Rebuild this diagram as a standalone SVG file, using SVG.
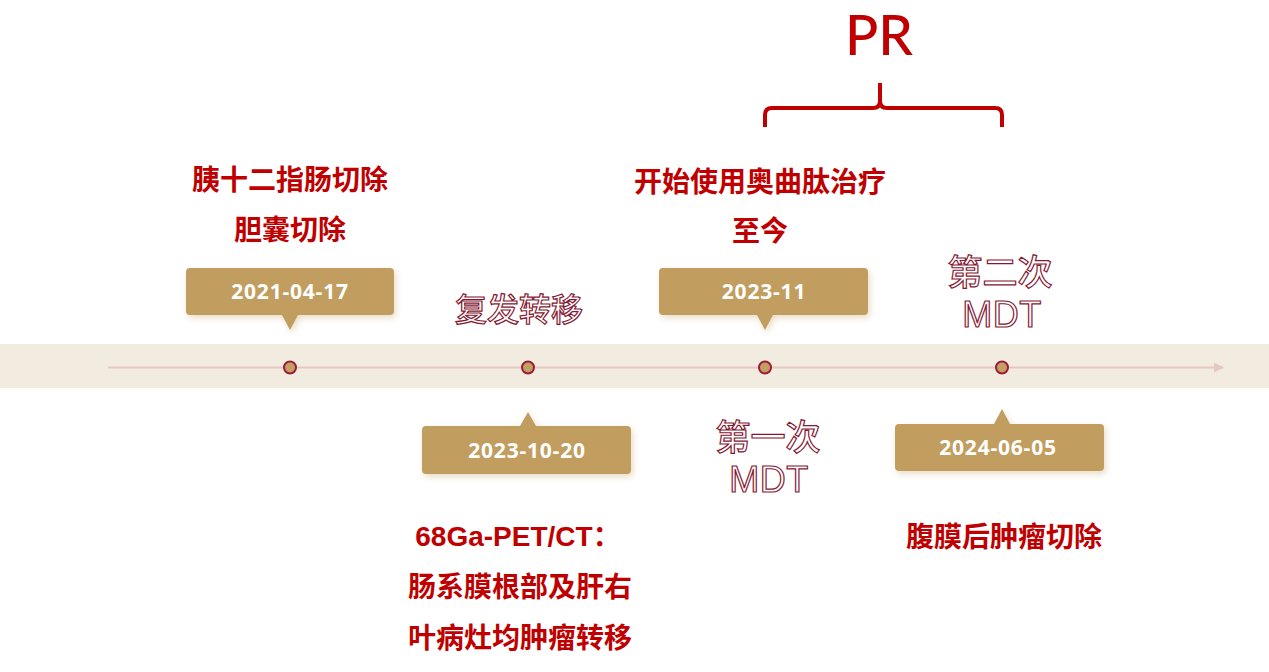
<svg xmlns="http://www.w3.org/2000/svg" width="1269" height="672" viewBox="0 0 1269 672">
<defs>
<style>
.red{font-family:"Liberation Sans","Noto Sans CJK SC",sans-serif;font-weight:bold;font-size:28px;fill:#c00000;text-anchor:middle}
.date{font-family:"Open Sans","Noto Sans",sans-serif;font-weight:bold;font-size:21px;fill:#ffffff;text-anchor:middle;letter-spacing:0.8px}
.outl{font-family:"Noto Sans CJK SC","Open Sans",sans-serif;font-weight:500;font-size:32px;fill:#ffffff;stroke:#841833;stroke-width:1.2;text-anchor:middle}
.big{font-size:35px}
.mdt{font-family:"Liberation Sans",sans-serif;font-weight:normal;font-size:36px;letter-spacing:0.5px}
.callout{fill:#c19e5f;filter:url(#sh)}
.dot{fill:#c3a062;stroke:#9b1b3b;stroke-width:2}
</style>
<filter id="sh" x="-10%" y="-20%" width="130%" height="160%">
<feDropShadow dx="2" dy="3" stdDeviation="3" flood-color="#c19e5f" flood-opacity="0.35"/>
</filter>
<marker id="arr" viewBox="0 0 10 10" refX="9" refY="5" markerWidth="10" markerHeight="10" markerUnits="userSpaceOnUse" orient="auto">
<path d="M0,0 L10,5 L0,10 Z" fill="#e6c8c0"/>
</marker>
</defs>
<rect width="1269" height="672" fill="#ffffff"/>
<g id="timeline">
<rect x="0" y="344" width="1269" height="44" fill="#f2ebdf"/>
</g>
<g id="connectors">
<line x1="108" y1="367.5" x2="1223" y2="367.5" stroke="#e6c8c0" stroke-width="2" marker-end="url(#arr)"/>
<path d="M765,127 V115 Q765,108 772,108 H873 Q880,108 880,101 V83 M880,101 Q880,108 887,108 H995 Q1002,108 1002,115 V127" fill="none" stroke="#c00000" stroke-width="4"/>
</g>
<g id="pr"><text x="879" y="55" style="font-family:Lato,'Open Sans',sans-serif;font-size:55px;font-weight:500;fill:#c00000;text-anchor:middle">PR</text></g>
<g id="dots">
<circle class="dot" cx="290" cy="367.5" r="6"/>
<circle class="dot" cx="528" cy="367.5" r="6"/>
<circle class="dot" cx="765" cy="367.5" r="6"/>
<circle class="dot" cx="1002" cy="367.5" r="6"/>
</g>
<g id="node1">
<path class="callout" d="M190,268 H390 Q394,268 394,272 V311 Q394,315 390,315 H298 L290,330 L282,315 H190 Q186,315 186,311 V272 Q186,268 190,268 Z"/>
<text class="date" x="290" y="299">2021-04-17</text>
<text class="red" x="290" y="190">胰十二指肠切除</text>
<text class="red" x="290" y="240">胆囊切除</text>
</g>
<g id="node2">
<path class="callout" d="M426,426 H520 L528,412 L536,426 H627 Q631,426 631,430 V470 Q631,474 627,474 H426 Q422,474 422,470 V430 Q422,426 426,426 Z"/>
<text class="date" x="527" y="458">2023-10-20</text>
<text class="outl" x="519" y="321">复发转移</text>
<text class="red" x="518" y="546">68Ga-PET/CT：</text>
<text class="red" x="520" y="597">肠系膜根部及肝右</text>
<text class="red" x="520" y="648">叶病灶均肿瘤转移</text>
</g>
<g id="node3">
<path class="callout" d="M663,268 H864 Q868,268 868,272 V311 Q868,315 864,315 H773 L765,330 L757,315 H663 Q659,315 659,311 V272 Q659,268 663,268 Z"/>
<text class="date" x="764" y="299">2023-11</text>
<text class="red" x="760" y="192">开始使用奥曲肽治疗</text>
<text class="red" x="760" y="241">至今</text>
<text class="outl big" x="768" y="450">第一次</text>
<text class="outl mdt" x="769" y="492">MDT</text>
</g>
<g id="node4">
<path class="callout" d="M899,424 H994 L1002,409 L1010,424 H1100 Q1104,424 1104,428 V467 Q1104,471 1100,471 H899 Q895,471 895,467 V428 Q895,424 899,424 Z"/>
<text class="date" x="998" y="455">2024-06-05</text>
<text class="red" x="1004" y="547">腹膜后肿瘤切除</text>
<text class="outl big" x="1000" y="285">第二次</text>
<text class="outl mdt" x="1002" y="327">MDT</text>
</g>
</svg>
